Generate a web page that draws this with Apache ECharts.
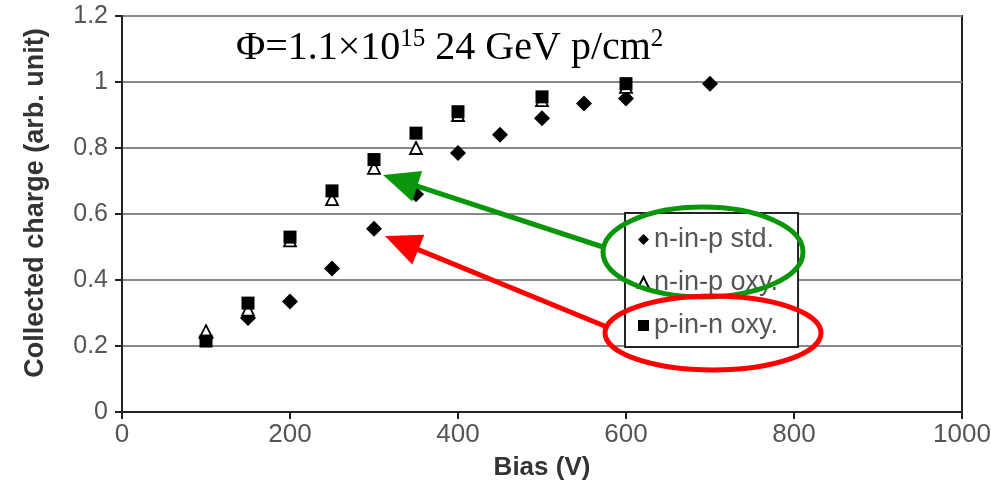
<!DOCTYPE html>
<html>
<head>
<meta charset="utf-8">
<script src="https://cdn.jsdelivr.net/npm/echarts@6/dist/echarts.min.js"></script>
<style>
html,body{margin:0;padding:0;background:#fff;}
#chart{width:991px;height:487px;}
</style>
</head>
<body>
<div id="chart"></div>
<script>
// Data
const seriesNames = ['n-in-p std.', 'n-in-p oxy.', 'p-in-n oxy.'];
const nInPStd = [[100,0.225],[150,0.285],[200,0.335],[250,0.435],[300,0.555],[350,0.66],[400,0.785],[450,0.84],[500,0.89],[550,0.935],[600,0.95],[700,0.995]];
const nInPOxy = [[100,0.245],[150,0.31],[200,0.52],[250,0.645],[300,0.74],[350,0.80],[400,0.90],[500,0.945],[600,0.985]];
const pInNOxy = [[100,0.215],[150,0.33],[200,0.53],[250,0.67],[300,0.765],[350,0.845],[400,0.91],[500,0.955],[600,0.995]];
const xTicks = [0,200,400,600,800,1000];
const yTicks = [0,0.2,0.4,0.6,0.8,1,1.2];

const chart = echarts.init(document.getElementById('chart'), null, {renderer:'canvas'});

function arrow(tail, tip, color){
  const dx = tip[0]-tail[0], dy = tip[1]-tail[1];
  const len = Math.sqrt(dx*dx+dy*dy);
  const ux = dx/len, uy = dy/len;
  const hl = 36, hw = 16;
  const bx = tip[0]-hl*ux, by = tip[1]-hl*uy;
  const px = -uy, py = ux;
  return [
    {type:'line', z:100, shape:{x1:tail[0], y1:tail[1], x2:bx+ux*4, y2:by+uy*4}, style:{stroke:color, lineWidth:5}},
    {type:'polygon', z:100, shape:{points:[[tip[0],tip[1]],[bx+hw*px,by+hw*py],[bx-hw*px,by-hw*py]]}, style:{fill:color}}
  ];
}

const option = {
  backgroundColor:'#fff',
  animation:false,
  title:{
    left:231, top:22,
    text:'{a|Φ=1.1×10}{s|15}{a| 24 GeV p/cm}{s|2}',
    textStyle:{
      fontWeight:'normal',
      rich:{
        a:{fontFamily:'Liberation Serif', fontWeight:'normal', fontSize:40, color:'#000', lineHeight:42},
        s:{fontFamily:'Liberation Serif', fontWeight:'normal', fontSize:25, color:'#000', verticalAlign:'top', lineHeight:42, padding:[0,0,14,0]}
      }
    }
  },
  grid:{left:122, right:29, top:16, bottom:75, show:true, borderColor:'#222', borderWidth:2,
    containLabel:false, outerBoundsMode:'none'},
  legend:{
    orient:'vertical', left:625, top:213,
    data:seriesNames,
    itemWidth:11, itemHeight:11, itemGap:16,
    padding:[13,20,8,12],
    borderColor:'#222', borderWidth:2, backgroundColor:'#fff',
    textStyle:{fontFamily:'Liberation Sans', fontSize:27, color:'#555', lineHeight:27}
  },
  xAxis:{
    type:'value', min:xTicks[0], max:xTicks[xTicks.length-1], interval:200,
    name:'Bias (V)', nameLocation:'middle', nameGap:43,
    nameTextStyle:{fontFamily:'Liberation Sans', fontWeight:'bold', fontSize:26, color:'#333'},
    axisLine:{lineStyle:{color:'#222', width:2}},
    axisTick:{show:true, length:7, lineStyle:{color:'#222', width:2}},
    axisLabel:{fontFamily:'Liberation Sans', fontSize:26, color:'#555', margin:10,
      formatter:function(v){return String(v);}},
    splitLine:{show:false}
  },
  yAxis:{
    type:'value', min:yTicks[0], max:yTicks[yTicks.length-1], interval:0.2,
    name:'Collected charge (arb. unit)', nameLocation:'middle', nameGap:73,
    nameTextStyle:{fontFamily:'Liberation Sans', fontWeight:'bold', fontSize:27, color:'#333', padding:[0,0,0,22]},
    axisLine:{lineStyle:{color:'#222', width:2}},
    axisTick:{show:true, length:7, lineStyle:{color:'#222', width:2}},
    axisLabel:{fontFamily:'Liberation Sans', fontSize:25, color:'#555', margin:14,
      formatter:function(v){return String(Math.round(v*10)/10);}},
    splitLine:{show:true, lineStyle:{color:'#888', width:2}}
  },
  series:[
    {name:seriesNames[0], type:'scatter', data:nInPStd, symbol:'diamond', symbolSize:16,
      itemStyle:{color:'#000', opacity:1}},
    {name:seriesNames[1], type:'scatter', data:nInPOxy, symbol:'triangle', symbolSize:12,
      itemStyle:{color:'#fff', borderColor:'#000', borderWidth:1.8, opacity:1}},
    {name:seriesNames[2], type:'scatter', data:pInNOxy, symbol:'rect', symbolSize:13,
      itemStyle:{color:'#000', opacity:1}}
  ],
  graphic:[
    {type:'ellipse', z:100, shape:{cx:703, cy:252, rx:100, ry:45}, style:{fill:'none', stroke:'#0a960a', lineWidth:5}},
    {type:'ellipse', z:100, shape:{cx:713, cy:333, rx:108, ry:37}, style:{fill:'none', stroke:'#ff0000', lineWidth:5}}
  ].concat(arrow([603,247],[383,175],'#0a960a')).concat(arrow([607,327],[385,236],'#ff0000'))
};
chart.setOption(option);
</script>
</body>
</html>
